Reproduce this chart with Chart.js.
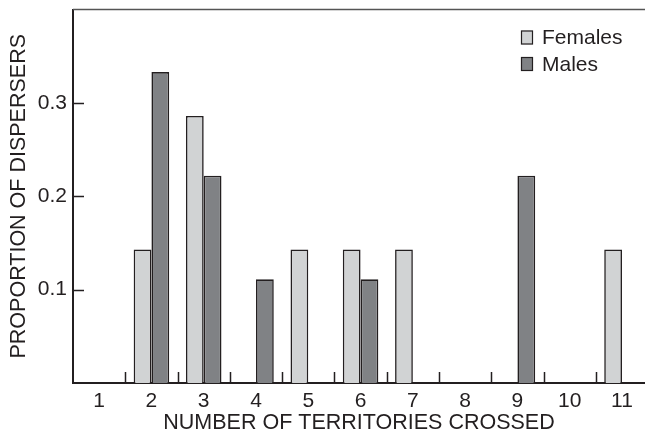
<!DOCTYPE html>
<html lang="en">
<head>
  <meta charset="UTF-8" />
  <title>Dispersal distance</title>
  <script src="https://cdn.jsdelivr.net/npm/chart.js"></script>
  <style>
    html, body {
      margin: 0;
      padding: 0;
      background: #fff;
    }
    .chart-box {
      width: 645px;
      height: 437px;
    }
  </style>
</head>
<body>
  <div class="chart-box">
    <canvas id="grafico"></canvas>
  </div>

  <script>
    // data
    const categories = [1, 2, 3, 4, 5, 6, 7, 8, 9, 10, 11];
    const females = [0, 0.143, 0.286, 0, 0.143, 0.143, 0.143, 0, 0, 0, 0.143];
    const males = [0, 0.333, 0.222, 0.111, 0, 0.111, 0, 0, 0.222, 0, 0];
    const yTicks = [0.1, 0.2, 0.3];

    const ink = '#231f20';
    const fontFam = "'Liberation Sans', Arial, sans-serif";

    const toPoints = vals => categories.map((c, i) => ({ x: c, y: vals[i] }));

    // inward tick marks, top frame line and the legend box
    const extras = {
      id: 'extras',
      afterDraw(chart) {
        const { ctx, chartArea } = chart;
        const x = chart.scales.x;
        const y = chart.scales.y;
        ctx.save();
        ctx.strokeStyle = ink;
        ctx.lineWidth = 1.5;
        ctx.beginPath();
        categories.forEach(c => {
          const px = Math.round(x.getPixelForValue(c + 0.5)) + 0.5;
          if (px > chartArea.right) return;
          ctx.moveTo(px, chartArea.bottom);
          ctx.lineTo(px, chartArea.bottom - 11);
        });
        yTicks.forEach(v => {
          const py = Math.round(y.getPixelForValue(v)) + 0.5;
          ctx.moveTo(chartArea.left, py);
          ctx.lineTo(chartArea.left + 11, py);
        });
        ctx.stroke();

        ctx.strokeStyle = '#555';
        ctx.lineWidth = 1.5;
        ctx.beginPath();
        ctx.moveTo(chartArea.left, chartArea.top);
        ctx.lineTo(chartArea.right, chartArea.top);
        ctx.stroke();

        // legend
        ctx.font = '21px ' + fontFam;
        ctx.textBaseline = 'middle';
        ctx.textAlign = 'left';
        chart.data.datasets.forEach((ds, i) => {
          const cy = 37.5 + i * 26.5;
          ctx.fillStyle = ds.backgroundColor;
          ctx.fillRect(521, cy - 7, 12, 14);
          ctx.strokeStyle = ink;
          ctx.lineWidth = 1.2;
          ctx.strokeRect(521.5, cy - 6.5, 11, 13);
          ctx.fillStyle = ink;
          ctx.fillText(ds.label, 542, cy + 1);
        });
        ctx.restore();
      }
    };

    new Chart(document.getElementById('grafico'), {
      type: 'bar',
      data: {
        datasets: [
          {
            label: 'Females',
            data: toPoints(females),
            backgroundColor: '#d1d3d4',
            borderColor: ink,
            borderWidth: 1.6
          },
          {
            label: 'Males',
            data: toPoints(males),
            backgroundColor: '#808285',
            borderColor: ink,
            borderWidth: 1.6
          }
        ]
      },
      options: {
        responsive: true,
        maintainAspectRatio: false,
        animation: false,
        devicePixelRatio: 1,
        layout: { padding: { top: 9.5, right: 0, left: 0, bottom: 0 } },
        categoryPercentage: 0.68,
        barPercentage: 1,
        plugins: {
          legend: { display: false },
          tooltip: { enabled: false }
        },
        scales: {
          x: {
            type: 'linear',
            min: 0.5,
            max: 11.44,
            offset: false,
            afterFit: s => {
              s.height = 54;
              s.paddingLeft = 0;
              s.paddingRight = 0;
            },
            ticks: {
              stepSize: 1,
              includeBounds: false,
              autoSkip: false,
              maxRotation: 0,
              padding: 6,
              color: ink,
              font: { family: fontFam, size: 21 },
              callback: v => Number.isInteger(v) ? String(v) : ''
            },
            grid: { display: false, drawTicks: false },
            border: { color: ink, width: 2 },
            title: {
              display: true,
              text: 'NUMBER OF TERRITORIES CROSSED',
              color: ink,
              font: { family: fontFam, size: 21.5 },
              padding: { top: 0, bottom: 1 }
            }
          },
          y: {
            min: 0,
            max: 0.4,
            afterFit: s => {
              s.width = 73;
              s.paddingTop = 0;
              s.paddingBottom = 0;
            },
            ticks: {
              stepSize: 0.1,
              padding: 6,
              color: ink,
              font: { family: fontFam, size: 21 },
              callback: v => yTicks.some(t => Math.abs(t - v) < 1e-6) ? v.toFixed(1) : ''
            },
            grid: { display: false, drawTicks: false },
            border: { color: ink, width: 2 },
            title: {
              display: true,
              text: 'PROPORTION OF DISPERSERS',
              color: ink,
              font: { family: fontFam, size: 21.5 },
              padding: { top: 6, bottom: 0 }
            }
          }
        }
      },
      plugins: [extras]
    });
  </script>
</body>
</html>
